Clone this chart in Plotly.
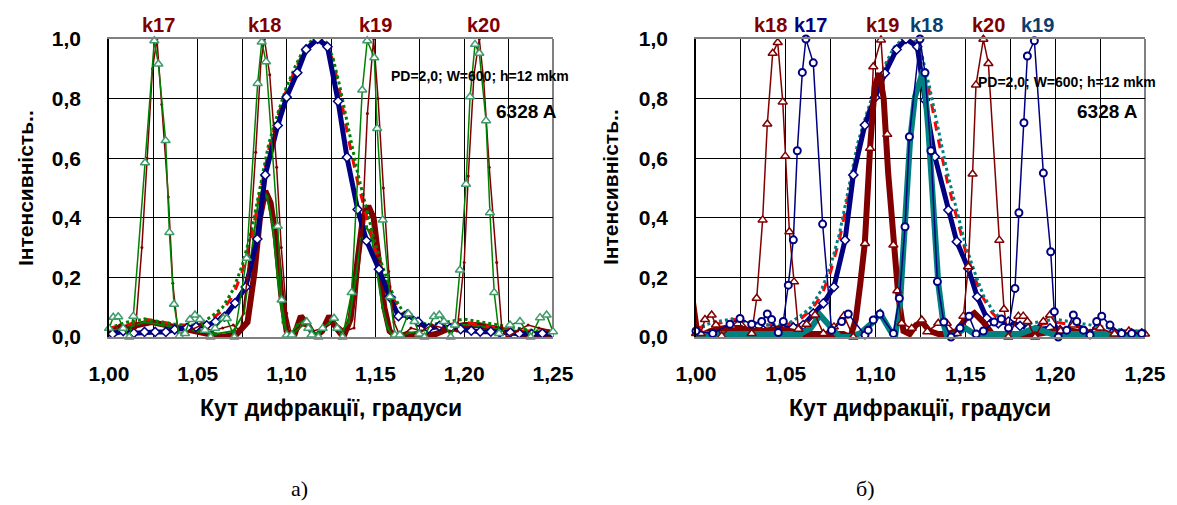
import plotly.graph_objects as go

W, H = 1177, 505

# ---------------- data: panel a) ----------------
# broad envelope (navy, diamonds)
ENV_A_x = [1.002,1.008,1.014,1.020,1.026,1.032,1.037,1.044,1.049,1.055,1.060,1.065,1.071,1.077,1.0835,1.088,1.095,1.100,1.106,1.111,1.1175,1.123,1.129,1.134,1.140,1.145,1.152,1.158,1.163,1.168,1.174,1.180,1.186,1.192,1.198,1.204,1.209,1.215,1.220,1.226,1.231,1.238,1.244,1.250]
ENV_A_y = [0.01,0.02,0.013,0.017,0.017,0.017,0.025,0.031,0.034,0.039,0.051,0.068,0.114,0.168,0.329,0.544,0.71,0.805,0.887,0.965,1.0,0.974,0.791,0.603,0.428,0.323,0.227,0.135,0.07,0.076,0.051,0.029,0.037,0.029,0.026,0.021,0.018,0.018,0.015,0.015,0.012,0.01,0.012,0.012]

# envelope copies (red dashed / green-teal dotted), used in both panels
ENV_RED_x = [1.000,1.010,1.020,1.030,1.040,1.050,1.058,1.064,1.070,1.075,1.080,1.085,1.090,1.095,1.100,1.105,1.110,1.115,1.118,1.122,1.126,1.130,1.135,1.140,1.145,1.150,1.155,1.160,1.165,1.170,1.180,1.190,1.200,1.210,1.220,1.230,1.240,1.250]
ENV_RED_y = [0.03,0.04,0.06,0.05,0.04,0.04,0.06,0.09,0.14,0.22,0.33,0.48,0.63,0.74,0.83,0.90,0.96,0.995,1.0,0.985,0.93,0.82,0.66,0.52,0.40,0.29,0.20,0.13,0.08,0.05,0.03,0.04,0.05,0.04,0.03,0.02,0.02,0.02]
ENV_GRN_y = [0.03,0.05,0.06,0.05,0.04,0.04,0.07,0.10,0.16,0.24,0.35,0.50,0.65,0.75,0.84,0.91,0.97,1.0,1.0,0.99,0.94,0.84,0.69,0.55,0.43,0.31,0.22,0.14,0.09,0.06,0.04,0.05,0.06,0.05,0.04,0.03,0.02,0.02]

# product, thick dark red
PA_x = [1.000,1.008,1.016,1.024,1.032,1.040,1.048,1.056,1.064,1.072,1.078,1.082,1.085,1.088,1.091,1.094,1.097,1.100,1.104,1.108,1.112,1.116,1.120,1.124,1.128,1.132,1.136,1.140,1.143,1.146,1.149,1.152,1.155,1.158,1.162,1.168,1.176,1.184,1.192,1.200,1.208,1.216,1.224,1.232,1.240,1.250]
PA_y = [0.02,0.03,0.04,0.05,0.04,0.03,0.02,0.01,0.0,0.01,0.05,0.22,0.40,0.49,0.45,0.33,0.14,0.02,0.0,0.07,0.04,0.0,0.02,0.07,0.03,0.0,0.06,0.26,0.40,0.44,0.40,0.25,0.10,0.02,0.0,0.01,0.0,0.01,0.03,0.04,0.04,0.03,0.02,0.01,0.01,0.01]

# product, thin green
GPA_x = [1.000,1.010,1.020,1.030,1.040,1.050,1.060,1.070,1.076,1.080,1.084,1.0865,1.089,1.092,1.095,1.098,1.101,1.106,1.111,1.116,1.121,1.126,1.131,1.135,1.139,1.142,1.145,1.148,1.151,1.154,1.157,1.160,1.166,1.175,1.185,1.195,1.205,1.215,1.225,1.235,1.250]
GPA_y = [0.02,0.03,0.05,0.04,0.03,0.02,0.01,0.02,0.08,0.27,0.45,0.50,0.47,0.38,0.20,0.05,0.0,0.04,0.06,0.01,0.03,0.06,0.02,0.05,0.20,0.33,0.37,0.33,0.22,0.10,0.03,0.0,0.01,0.02,0.03,0.04,0.04,0.03,0.02,0.02,0.01]

# narrow orders, thin dark red
DRA_x = [1.000,1.006,1.012,1.0150,1.0185,1.0215,1.0245,1.027,1.0297,1.0334,1.0359,1.039,1.045,1.052,1.058,1.064,1.070,1.074,1.078,1.0826,1.0855,1.0875,1.0905,1.0944,1.097,1.100,1.103,1.109,1.115,1.121,1.127,1.133,1.138,1.1425,1.1455,1.149,1.1515,1.1545,1.1575,1.1605,1.164,1.170,1.176,1.182,1.188,1.192,1.196,1.200,1.2023,1.2055,1.2085,1.211,1.2141,1.2183,1.2211,1.224,1.230,1.236,1.242,1.250]
DRA_y = [0.02,0.04,0.03,0.03,0.30,0.60,0.90,1.0,0.78,0.47,0.18,0.01,0.02,0.04,0.02,0.03,0.04,0.02,0.20,0.62,0.92,1.0,0.88,0.57,0.30,0.08,0.0,0.04,0.02,0.03,0.05,0.02,0.03,0.35,0.75,1.0,0.80,0.50,0.22,0.05,0.0,0.03,0.02,0.04,0.03,0.02,0.02,0.25,0.54,0.88,1.0,0.86,0.57,0.25,0.035,0.0,0.02,0.04,0.03,0.02]

# narrow orders, green with triangles
GA_x = [1.000,1.0024,1.0052,1.008,1.0114,1.0137,1.0203,1.0255,1.0278,1.0319,1.034,1.0366,1.0396,1.0428,1.0456,1.0484,1.0512,1.054,1.0572,1.0597,1.0644,1.0663,1.0706,1.0775,1.0837,1.086,1.0884,1.095,1.0972,1.1001,1.1029,1.1113,1.1122,1.1141,1.1179,1.1203,1.1267,1.1285,1.1315,1.1366,1.1426,1.1454,1.1494,1.151,1.1541,1.1582,1.161,1.1638,1.1685,1.172,1.1747,1.1776,1.183,1.186,1.1886,1.1924,1.1948,1.1976,1.201,1.2033,1.2061,1.2085,1.2123,1.2145,1.2169,1.2196,1.2258,1.2314,1.2374,1.2427,1.2464,1.250]
GA_y = [0.029,0.066,0.068,0.029,0.0,0.07,0.585,0.994,0.916,0.659,0.351,0.11,0.003,0.012,0.059,0.074,0.059,0.023,0.0,0.029,0.062,0.062,0.0,0.264,0.851,0.99,0.924,0.372,0.124,0.007,0.007,0.051,0.029,0.007,0.0,0.029,0.063,0.029,0.0,0.149,0.829,0.994,0.937,0.70,0.393,0.135,0.007,0.007,0.078,0.052,0.010,0.0,0.069,0.074,0.052,0.0,0.040,0.225,0.513,0.806,0.982,0.952,0.726,0.417,0.149,0.012,0.040,0.052,0.0,0.065,0.074,0.018]

# ---------------- data: panel б) ----------------
ENV_B_x = [1.000,1.0087,1.0143,1.0199,1.0254,1.0319,1.0375,1.043,1.0486,1.0542,1.0597,1.0653,1.0709,1.0768,1.083,1.0876,1.094,1.0997,1.1052,1.1117,1.1169,1.1232,1.1275,1.133,1.1405,1.1452,1.1516,1.1566,1.1619,1.1683,1.1739,1.1804,1.185,1.1906,1.1971,1.2027,1.2082,1.2138,1.2194,1.2259,1.2315,1.237,1.2426,1.2482]
ENV_B_y = [0.01,0.012,0.015,0.018,0.023,0.026,0.023,0.026,0.026,0.032,0.040,0.079,0.113,0.168,0.325,0.544,0.711,0.804,0.885,0.965,1.0,0.974,0.795,0.605,0.426,0.32,0.23,0.135,0.063,0.046,0.052,0.037,0.029,0.026,0.029,0.023,0.018,0.015,0.010,0.012,0.012,0.012,0.012,0.012]

PB_x = [0.998,1.001,1.008,1.016,1.024,1.032,1.040,1.046,1.052,1.060,1.068,1.076,1.082,1.086,1.089,1.0915,1.094,1.097,1.0995,1.102,1.1045,1.107,1.1099,1.1127,1.1155,1.119,1.1225,1.126,1.130,1.135,1.140,1.145,1.150,1.155,1.160,1.165,1.170,1.180,1.190,1.200,1.210,1.220,1.230,1.240,1.250]
PB_y = [0.13,0.0,0.02,0.03,0.03,0.02,0.02,0.03,0.02,0.01,0.01,0.01,0.01,0.0,0.06,0.18,0.315,0.64,0.84,0.885,0.80,0.55,0.314,0.135,0.02,0.01,0.04,0.05,0.02,0.01,0.01,0.02,0.06,0.08,0.05,0.01,0.0,0.01,0.01,0.02,0.02,0.01,0.01,0.01,0.01]

TB_x = [1.000,1.010,1.020,1.030,1.040,1.050,1.058,1.064,1.069,1.074,1.080,1.086,1.0913,1.0978,1.1025,1.108,1.1108,1.1136,1.1164,1.1192,1.1219,1.1266,1.1294,1.1321,1.1349,1.1377,1.140,1.145,1.150,1.155,1.160,1.170,1.180,1.189,1.198,1.210,1.220,1.230,1.240,1.250]
TB_y = [0.01,0.01,0.01,0.01,0.01,0.01,0.01,0.03,0.074,0.04,0.0,0.0,0.012,0.046,0.08,0.023,0.0,0.113,0.37,0.66,0.806,0.896,0.695,0.449,0.18,0.046,0.0,0.01,0.03,0.01,0.01,0.01,0.01,0.03,0.01,0.01,0.01,0.01,0.01,0.01]

DRB_x = [1.000,1.0026,1.005,1.0087,1.0111,1.0143,1.0199,1.0245,1.031,1.0338,1.0371,1.0397,1.0427,1.0455,1.0483,1.0497,1.052,1.0546,1.057,1.0616,1.0663,1.0709,1.0768,1.0824,1.0876,1.0941,1.0969,1.0987,1.103,1.1065,1.1099,1.1121,1.1145,1.1201,1.1257,1.1288,1.1349,1.1396,1.1452,1.1489,1.1516,1.154,1.1559,1.160,1.1628,1.1689,1.1715,1.1739,1.1795,1.1822,1.1845,1.1888,1.1934,1.1971,1.203,1.210,1.217,1.225,1.233,1.241,1.250]
DRB_y = [0.012,0.012,0.059,0.074,0.04,0.003,0.037,0.059,0.012,0.13,0.393,0.715,0.952,0.988,0.789,0.607,0.353,0.185,0.026,0.043,0.074,0.012,0.034,0.071,0.0,0.314,0.633,0.907,0.997,0.68,0.309,0.155,0.046,0.029,0.057,0.018,0.046,0.046,0.012,0.07,0.236,0.547,0.846,0.999,0.918,0.325,0.093,0.0,0.07,0.07,0.052,0.0,0.052,0.074,0.02,0.04,0.02,0.03,0.01,0.02,0.01]

BLB_x = [1.000,1.0093,1.0189,1.0245,1.031,1.0366,1.0397,1.0421,1.0458,1.0486,1.0514,1.0542,1.0564,1.0592,1.0612,1.0653,1.0705,1.0755,1.0811,1.0848,1.0941,1.0959,1.0987,1.1024,1.1099,1.1132,1.1164,1.1188,1.1247,1.1275,1.1308,1.1344,1.138,1.142,1.147,1.152,1.156,1.160,1.166,1.170,1.174,1.1776,1.1798,1.1826,1.1845,1.1884,1.1934,1.1975,1.1995,1.2017,1.2064,1.2101,1.212,1.2157,1.2194,1.2231,1.2259,1.2305,1.237,1.2426,1.2482]
BLB_y = [0.02,0.012,0.043,0.062,0.043,0.052,0.077,0.059,0.015,0.052,0.174,0.326,0.625,0.888,1.0,0.92,0.379,0.023,0.052,0.077,0.007,0.023,0.057,0.077,0.012,0.13,0.37,0.672,1.0,0.887,0.625,0.186,0.05,0.0,0.03,0.07,0.01,0.02,0.05,0.06,0.03,0.163,0.417,0.719,0.943,0.994,0.55,0.286,0.085,0.0,0.023,0.074,0.052,0.023,0.007,0.052,0.07,0.04,0.012,0.012,0.012]

# ---------------- ticks & labels ----------------
X_TICKS = [1.000,1.025,1.050,1.075,1.100,1.125,1.150,1.175,1.200,1.225,1.250]
X_TICK_TEXT = ["1,00","","1,05","","1,10","","1,15","","1,20","","1,25"]
Y_TICKS = [0.0,0.2,0.4,0.6,0.8,1.0]
Y_TICK_TEXT = ["0,0","0,2","0,4","0,6","0,8","1,0"]

K_A_TEXT = ["k17","k18","k19","k20"]
K_A_POS = [1.0276,1.0878,1.1498,1.2106]
K_A_COL = ["#800000","#800000","#800000","#800000"]
K_B_TEXT = ["k18","k17","k19","k18","k20","k19"]
K_B_POS = [1.0412,1.0635,1.1036,1.1286,1.1626,1.1899]
K_B_COL = ["#800000","#000080","#800000","#0A3E6E","#800000","#0A3E6E"]

X_TITLE = "Кут дифракції, градуси"
Y_TITLE = "Інтенсивність.."
PARAM_TEXT = "PD=2,0; W=600; h=12 mkm"
WAVE_TEXT = "6328 A"
PANEL_TAGS = ["а)", "б)"]

# ---------------- styling ----------------
NAVY = "#000080"; DRED = "#800000"; GREEN = "#008000"; TEAL = "#008080"; RED = "#FF0000"
TRI_GREEN = "#3E9B6B"
SANS = "Liberation Sans, Arial, sans-serif"
SERIF = "Liberation Serif, Times New Roman, serif"

PLOT_L = (109, 553)
PLOT_R = (696, 1145)
PLOT_TOP, PLOT_BOT = 39, 337

fig = go.Figure()

def add(panel, x, y, **kw):
    fig.add_trace(go.Scatter(x=x, y=y, xaxis="x" if panel == 1 else "x2",
                             yaxis="y" if panel == 1 else "y2",
                             showlegend=False, hoverinfo="skip", **kw))

# panel a
add(1, PA_x, PA_y, mode="lines", line=dict(color=DRED, width=6))
add(1, GPA_x, GPA_y, mode="lines+markers", line=dict(color=GREEN, width=2),
    marker=dict(symbol="square", size=3, color=GREEN))
add(1, ENV_RED_x, ENV_RED_y, mode="lines", line=dict(color=RED, width=3, dash="dash"))
add(1, ENV_RED_x, ENV_GRN_y, mode="lines", line=dict(color=GREEN, width=3, dash="dot"))
add(1, ENV_A_x, ENV_A_y, mode="lines+markers", line=dict(color=NAVY, width=5),
    marker=dict(symbol="diamond", size=7, color="white", line=dict(color=NAVY, width=1.5)))
add(1, DRA_x, DRA_y, mode="lines+markers", line=dict(color=DRED, width=1.5),
    marker=dict(symbol="circle", size=3, color=DRED))
add(1, GA_x, GA_y, mode="lines+markers", line=dict(color=GREEN, width=1.5),
    marker=dict(symbol="triangle-up", size=8, color="white", line=dict(color=TRI_GREEN, width=1.5)),
    cliponaxis=False)

# panel b
add(2, ENV_RED_x, ENV_RED_y, mode="lines", line=dict(color=RED, width=3, dash="dash"))
add(2, ENV_RED_x, ENV_GRN_y, mode="lines", line=dict(color=TEAL, width=3, dash="dot"))
add(2, ENV_B_x, ENV_B_y, mode="lines+markers", line=dict(color=NAVY, width=5),
    marker=dict(symbol="diamond", size=7, color="white", line=dict(color=NAVY, width=1.5)))
add(2, PB_x, PB_y, mode="lines", line=dict(color=DRED, width=6))
add(2, TB_x, TB_y, mode="lines", line=dict(color=TEAL, width=6))
add(2, DRB_x, DRB_y, mode="lines+markers", line=dict(color=DRED, width=1.5),
    marker=dict(symbol="triangle-up", size=8, color="white", line=dict(color=DRED, width=1.5)),
    cliponaxis=False)
add(2, BLB_x, BLB_y, mode="lines+markers", line=dict(color=NAVY, width=1.5),
    marker=dict(symbol="circle", size=7, color="white", line=dict(color=NAVY, width=2)),
    cliponaxis=False)

tickfont = dict(family=SANS, size=21, color="black", weight="bold")

def xaxis(dom):
    return dict(domain=[dom[0] / W, dom[1] / W], range=[1.0, 1.25], automargin=False,
                tickvals=X_TICKS, ticktext=X_TICK_TEXT, tickfont=tickfont,
                ticks="outside", ticklen=17, tickcolor="rgba(0,0,0,0)",
                showgrid=True, gridcolor="black", gridwidth=1, zeroline=False,
                showline=True, linecolor="#808080", linewidth=2, mirror=True,
                fixedrange=True)

def yaxis(anchor):
    return dict(domain=[1 - PLOT_BOT / H, 1 - PLOT_TOP / H], range=[0, 1.0], automargin=False,
                anchor=anchor, tickvals=Y_TICKS, ticktext=Y_TICK_TEXT, tickfont=tickfont,
                ticks="outside", ticklen=22, tickcolor="rgba(0,0,0,0)",
                showgrid=True, gridcolor="black", gridwidth=1, zeroline=False,
                showline=True, linecolor="black", linewidth=1.5, fixedrange=True)

fig.update_layout(
    template="none",
    width=W, height=H, autosize=False,
    margin=dict(l=0, r=0, t=0, b=0, pad=0),
    paper_bgcolor="white", plot_bgcolor="white",
    xaxis=dict(xaxis(PLOT_L), anchor="y"),
    yaxis=yaxis("x"),
    xaxis2=dict(xaxis(PLOT_R), anchor="y2"),
    yaxis2=yaxis("x2"),
)

# right-hand plot-area border (gray), drawn under the traces
for xr, yr in (("x domain", "y domain"), ("x2 domain", "y2 domain")):
    fig.add_shape(type="line", xref=xr, yref=yr, x0=1, x1=1, y0=0, y1=1,
                  line=dict(color="#808080", width=2), layer="below")

def ann(xp, yp, text, font, **kw):
    fig.add_annotation(x=xp / W, y=1 - yp / H, xref="paper", yref="paper", text=text,
                       showarrow=False, font=font, xanchor="center", yanchor="middle", **kw)

titlefont = dict(family=SANS, size=23, color="black", weight="bold")
ann(331, 408, X_TITLE, titlefont)
ann(920, 408, X_TITLE, titlefont)
ytitlefont = dict(family=SANS, size=21, color="black", weight="bold")
ann(25, 188, Y_TITLE, ytitlefont, textangle=-90)
ann(610, 187, Y_TITLE, ytitlefont, textangle=-90)

ann(480, 76, PARAM_TEXT, dict(family=SANS, size=14, color="black", weight="bold"))
ann(526, 112, WAVE_TEXT, dict(family=SANS, size=19, color="black", weight="bold"))
ann(1067, 82, PARAM_TEXT, dict(family=SANS, size=14, color="black", weight="bold"))
ann(1107, 112, WAVE_TEXT, dict(family=SANS, size=19, color="black", weight="bold"))

tagfont = dict(family=SERIF, size=22, color="black")
ann(299, 488, PANEL_TAGS[0], tagfont)
ann(865, 488, PANEL_TAGS[1], tagfont)

for t, p, c in zip(K_A_TEXT, K_A_POS, K_A_COL):
    fig.add_annotation(x=p, y=1 - 25 / H, xref="x", yref="paper", text=t, showarrow=False,
                       font=dict(family=SANS, size=20, color=c, weight="bold"),
                       xanchor="center", yanchor="middle")
for t, p, c in zip(K_B_TEXT, K_B_POS, K_B_COL):
    fig.add_annotation(x=p, y=1 - 25 / H, xref="x2", yref="paper", text=t, showarrow=False,
                       font=dict(family=SANS, size=20, color=c, weight="bold"),
                       xanchor="center", yanchor="middle")

fig.write_html("out.html", config={"displayModeBar": False},
               post_script="document.body.style.margin='0';document.body.style.overflow='hidden';")
